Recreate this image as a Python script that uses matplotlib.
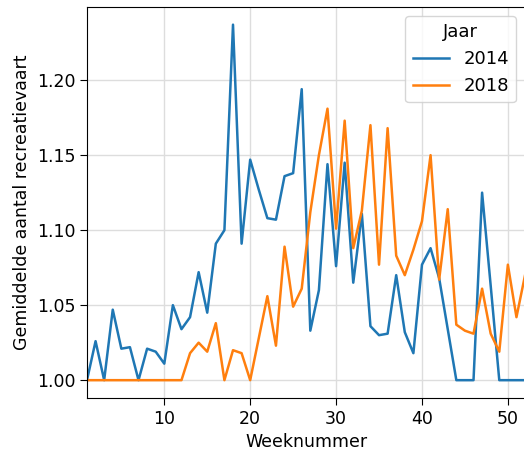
import matplotlib
matplotlib.use("Agg")
import matplotlib.pyplot as plt
import numpy as np

weeks = np.arange(1, 53)

jaar_2014 = [1.000, 1.026, 1.000, 1.047, 1.021, 1.022, 1.000, 1.021, 1.019, 1.011,
             1.050, 1.034, 1.042, 1.072, 1.045, 1.091, 1.100, 1.237, 1.091, 1.147,
             1.127, 1.108, 1.107, 1.136, 1.138, 1.194, 1.033, 1.060, 1.144, 1.076,
             1.145, 1.065, 1.111, 1.036, 1.030, 1.031, 1.070, 1.032, 1.018, 1.077,
             1.088, 1.068, 1.034, 1.000, 1.000, 1.000, 1.125, 1.063, 1.000, 1.000,
             1.000, 1.000]

jaar_2018 = [1.000, 1.000, 1.000, 1.000, 1.000, 1.000, 1.000, 1.000, 1.000, 1.000,
             1.000, 1.000, 1.018, 1.025, 1.019, 1.038, 1.000, 1.020, 1.018, 1.000,
             1.028, 1.056, 1.023, 1.089, 1.049, 1.061, 1.112, 1.150, 1.181, 1.101,
             1.173, 1.088, 1.113, 1.170, 1.077, 1.168, 1.083, 1.070, 1.087, 1.106,
             1.150, 1.067, 1.114, 1.037, 1.033, 1.031, 1.061, 1.031, 1.019, 1.077,
             1.042, 1.070]

series = {"2014": jaar_2014, "2018": jaar_2018}
colors = ["#1f77b4", "#ff7f0e"]

fs = 12.5
fig = plt.figure(figsize=(5.24, 4.59), dpi=100)
ax = fig.add_axes([0.166, 0.133, 0.836, 0.852])

for (label, vals), c in zip(series.items(), colors):
    ax.plot(weeks, vals, color=c, linewidth=1.8, label=label)

ax.set_xlim(1, 52)
ax.set_xticks([10, 20, 30, 40, 50])
ax.set_yticks([1.00, 1.05, 1.10, 1.15, 1.20])
ax.yaxis.set_major_formatter(matplotlib.ticker.FormatStrFormatter("%.2f"))
ax.grid(True, color="#dddddd", linewidth=1)
ax.set_axisbelow(True)
ax.tick_params(labelsize=fs, length=5)
ax.set_xlabel("Weeknummer", fontsize=fs)
ax.set_ylabel("Gemiddelde aantal recreatievaart", fontsize=fs)

leg = ax.legend(title="Jaar", loc="upper right", fontsize=13, title_fontsize=13)

fig.savefig("out.png", dpi=100)
